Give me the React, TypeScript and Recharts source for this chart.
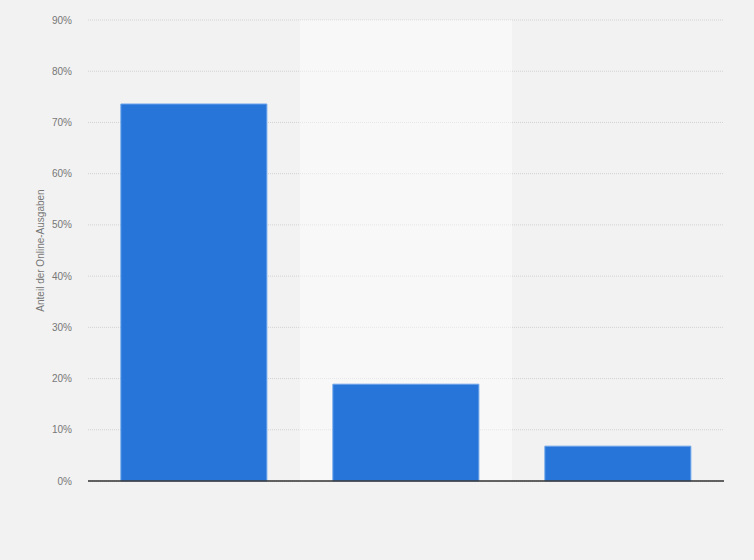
import { BarChart, Bar, XAxis, YAxis, CartesianGrid, ReferenceArea, Label } from "recharts";

const categories = ["Kategorie A", "Kategorie B", "Kategorie C"];
const shares = [73.6, 18.9, 6.8];
const yTicks = [0, 10, 20, 30, 40, 50, 60, 70, 80, 90];

const data = categories.map((name, i) => ({ name, share: shares[i] }));

export default function App() {
  return (
    <div style={{ position: "absolute", left: 0, top: 0, width: 754, height: 560, background: "#f2f2f2", fontFamily: "Arial, 'Liberation Sans', sans-serif" }}>
      <BarChart width={754} height={560} data={data} margin={{ top: 20, right: 30, bottom: 49, left: 0 }} barCategoryGap="15.5%">
        <CartesianGrid vertical={false} stroke="#d2d2d2" strokeDasharray="1 1" />
        <ReferenceArea x1={categories[1]} x2={categories[1]} fill="#ffffff" fillOpacity={0.45} stroke="none" />
        <XAxis dataKey="name" tick={false} tickLine={false} axisLine={{ stroke: "#333333", strokeWidth: 1.5 }} height={30} />
        <YAxis
          width={88}
          domain={[0, 90]}
          ticks={yTicks}
          tickFormatter={(v) => `${v}%`}
          axisLine={false}
          tickLine={false}
          tickSize={0}
          tickMargin={16}
          tick={{ fill: "#777777", fontSize: 10 }}
        >
          <Label value="Anteil der Online-Ausgaben" angle={-90} position="insideLeft" offset={40} style={{ textAnchor: "middle", fill: "#777777", fontSize: 10 }} />
        </YAxis>
        <Bar dataKey="share" fill="#2775d9" stroke="#6ba3ea" strokeWidth={1} isAnimationActive={false} />
      </BarChart>
    </div>
  );
}
